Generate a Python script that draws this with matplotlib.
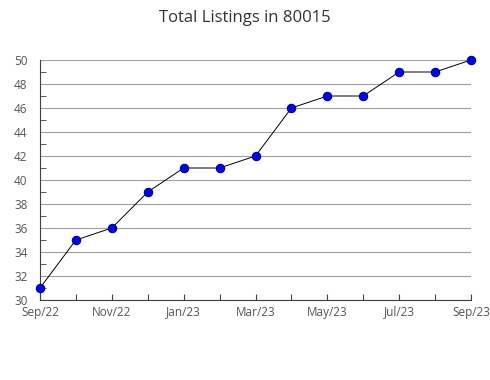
import numpy as np
import matplotlib.pyplot as plt

plt.rcParams['font.family'] = ['Open Sans', 'DejaVu Sans']

# data
months = ['Sep/22', 'Oct/22', 'Nov/22', 'Dec/22', 'Jan/23', 'Feb/23', 'Mar/23',
          'Apr/23', 'May/23', 'Jun/23', 'Jul/23', 'Aug/23', 'Sep/23']
listings = [31, 35, 36, 39, 41, 41, 42, 46, 47, 47, 49, 49, 50]

fig = plt.figure(figsize=(4.9, 3.8), dpi=100)
ax = fig.add_axes([40 / 490, 1 - 300 / 380, 431 / 490, 240 / 380])

x = np.arange(len(months))
ax.plot(x, listings, color='black', linewidth=0.7, zorder=3)
ax.plot(x, listings, linestyle='none', marker='o', markersize=6,
        markerfacecolor='#0000ff', markeredgecolor='#000080',
        markeredgewidth=0.8, zorder=4, clip_on=False)

ax.set_xlim(0, len(months) - 1)
ax.set_ylim(30, 50)
ax.set_xticks(x)
ax.set_xticklabels([m if i % 2 == 0 else '' for i, m in enumerate(months)])
ax.set_yticks(np.arange(30, 51, 2))
ax.set_yticks(np.arange(31, 50, 2), minor=True)

ax.grid(axis='y', which='major', color='#a0a0a0', linewidth=0.8)
ax.set_axisbelow(True)

for s in ['top', 'right']:
    ax.spines[s].set_visible(False)
for s in ['left', 'bottom']:
    ax.spines[s].set_color('#404040')
    ax.spines[s].set_linewidth(0.8)

ax.tick_params(axis='x', direction='in', length=4, color='#404040',
               labelsize=8.5, labelcolor='#555555', pad=4)
ax.tick_params(axis='y', which='major', direction='in', length=0,
               labelsize=8.5, labelcolor='#555555', pad=9)
ax.tick_params(axis='y', which='minor', direction='in', length=4,
               color='#404040')

fig.suptitle('Total Listings in 80015', y=0.975, fontsize=12, color='#333333')

fig.savefig('out.png', dpi=100)
